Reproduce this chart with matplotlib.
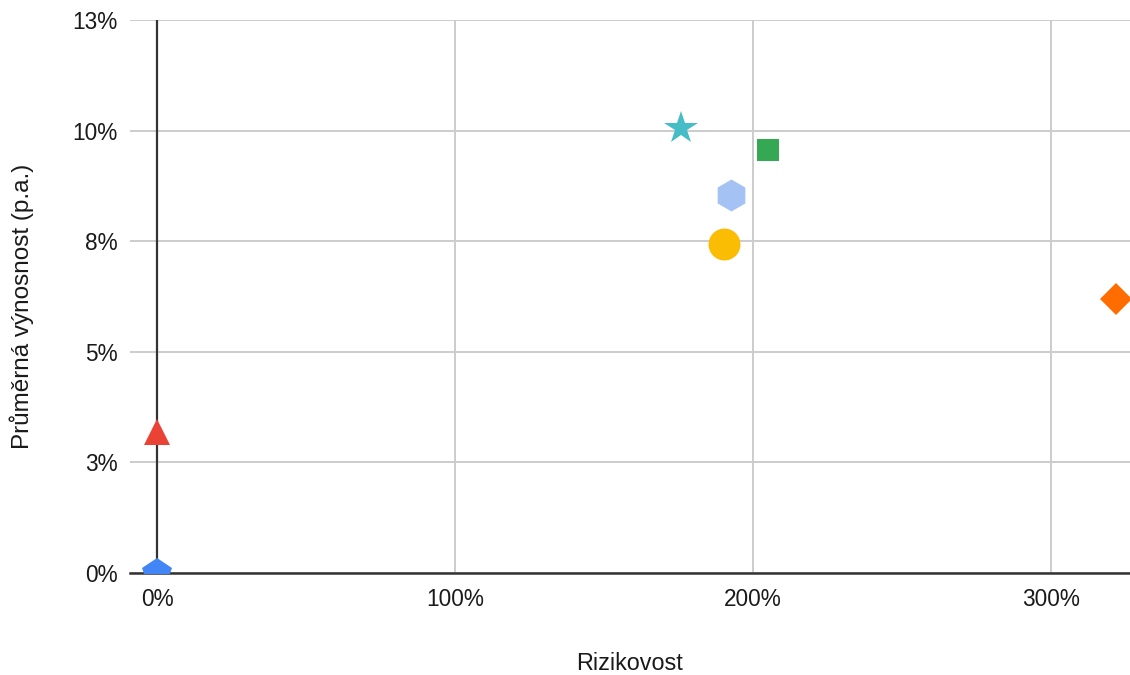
import numpy as np
import matplotlib
matplotlib.use("Agg")
import matplotlib.pyplot as plt

plt.rcParams["font.family"] = ["Liberation Sans", "DejaVu Sans"]

# ---------- data (percent) ----------
risk = [0.0, 0.0, 175.8, 204.9, 192.5, 190.3, 321.8]
ret = [0.0, 3.18, 10.05, 9.56, 8.54, 7.43, 6.19]
colors = ["#4285F4", "#EA4335", "#46BDC6", "#34A853", "#A4C2F4", "#FBBC04", "#FF6D01"]
markers = ["p", "^", "*", "s", "h", "o", "D"]
sizes = [22, 19, 25, 16.5, 23, 23, 16.3]

x_ticks = [0, 100, 200, 300]
y_ticks = [0, 2.5, 5, 7.5, 10, 12.5]


def pct_label(v):
    # whole percent, halves rounded up
    return f"{int(np.floor(v + 0.5))}%"


fig = plt.figure(figsize=(11.3, 6.75), dpi=100)
ax = fig.add_axes([130 / 1130, 1 - 573 / 675, 1000 / 1130, 553 / 675])

for x, y, c, m, s in zip(risk, ret, colors, markers, sizes):
    ax.plot(x, y, linestyle="none", marker=m, markersize=s, color=c,
            markeredgewidth=0, zorder=5)

ax.set_xlim(-9.06, 326.5)
ax.set_ylim(0, 12.5)

ax.set_xticks(x_ticks)
ax.set_xticklabels([pct_label(v) for v in x_ticks])
ax.set_yticks(y_ticks)
ax.set_yticklabels([pct_label(v) for v in y_ticks])

ax.grid(True, color="#cccccc", linewidth=1.4, zorder=0)
ax.set_axisbelow(True)
ax.axhline(0, color="#333333", linewidth=1.8, zorder=3, clip_on=False)
ax.axvline(0, color="#333333", linewidth=1.6, zorder=3)

for sp in ax.spines.values():
    sp.set_visible(False)

ax.tick_params(axis="both", length=0, labelsize=16.3, colors="#1a1a1a")
ax.tick_params(axis="y", pad=9)
ax.tick_params(axis="x", pad=11)

ax.set_xlabel("Rizikovost", fontsize=16.8, color="#1a1a1a", labelpad=29)
ax.set_ylabel("Průměrná výnosnost (p.a.)", fontsize=17.5, color="#1a1a1a")
ax.yaxis.set_label_coords(-0.096, 0.483)

fig.savefig("out.png", dpi=100)
